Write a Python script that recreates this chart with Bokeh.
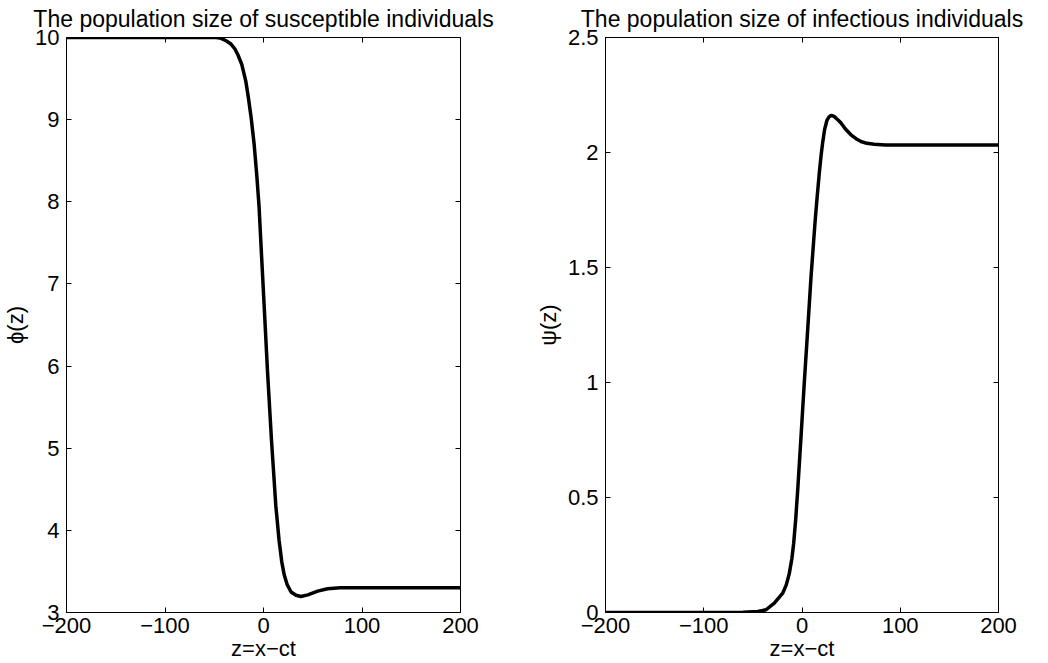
from bokeh.plotting import figure
from bokeh.layouts import row
from bokeh.models import LinearAxis, FixedTicker, Range1d
from bokeh.embed import file_html
from bokeh.resources import INLINE

# ---- data ----
z_phi = [-200, -100, -60, -48, -43, -38, -33, -29, -26, -22, -18, -15.5, -12.5,
         -9.5, -7, -4.5, -2, 0.6, 4.1, 8.1, 12.5, 15.8, 18.5, 21, 24, 28, 33, 38, 45,
         55, 65, 78, 100, 150, 200]
phi = [10, 10, 10, 10.0, 9.99, 9.96, 9.92, 9.86, 9.79, 9.67, 9.47, 9.28, 9.02,
       8.70, 8.35, 7.94, 7.35, 6.75, 5.93, 5.10, 4.30, 3.88, 3.62, 3.46, 3.34, 3.25, 3.21,
       3.195, 3.215, 3.26, 3.29, 3.30, 3.30, 3.30, 3.30]

z_psi = [-200, -100, -60, -45, -36.6, -28.2, -19.6, -16, -12.9, -10.3, -8.5, -6.5,
         -4.4, -1.0, 2.3, 5.2, 9.2, 13.2, 15.5, 17.6, 19.5, 21.1, 23, 25.4, 27.5, 29.5,
         31.2, 33, 35, 37.5, 39.7, 44, 49.8, 55, 60, 66, 73.5, 85, 100, 150, 200]
psi = [0, 0, 0.001, 0.004, 0.012, 0.041, 0.084, 0.12, 0.17, 0.235, 0.30, 0.40,
       0.53, 0.765, 0.997, 1.19, 1.46, 1.693, 1.81, 1.91, 1.99, 2.045, 2.10, 2.14, 2.155, 2.161,
       2.160, 2.156, 2.148, 2.138, 2.128, 2.103, 2.077, 2.06, 2.048, 2.04, 2.036, 2.033,
       2.033, 2.033, 2.033]

x_ticks = [-200, -100, 0, 100, 200]
x_tick_labels = ["\u2212200", "\u2212100", "0", "100", "200"]
phi_ticks = [3, 4, 5, 6, 7, 8, 9, 10]
phi_tick_labels = ["3", "4", "5", "6", "7", "8", "9", "10"]
psi_ticks = [0, 0.5, 1, 1.5, 2, 2.5]
psi_tick_labels = ["0", "0.5", "1", "1.5", "2", "2.5"]

titles = ["The population size of susceptible individuals",
          "The population size of infectious individuals"]
x_label = "z=x\u2212ct"
y_labels = ["\u03d5(z)", "\u03c8(z)"]

FONT = "Liberation Sans"
FS = "22px"
TFS = "23px"


def make(title, ylabel, zs, vs, yr, yticks, ylabels, bl, br):
    p = figure(width=524, height=663, output_backend="svg", toolbar_location=None,
               x_range=Range1d(-200, 200), y_range=Range1d(*yr),
               min_border_left=bl, min_border_right=br,
               min_border_top=37, min_border_bottom=50,
               background_fill_color="white", border_fill_color="white")
    p.title.text = title
    p.title.text_font = FONT
    p.title.text_font_size = TFS
    p.title.text_font_style = "normal"
    p.title.text_color = "black"
    p.title.align = "center"
    p.title.vertical_align = "top"
    p.title.standoff = 8
    p.outline_line_color = "black"
    p.outline_line_width = 1
    p.outline_line_alpha = 1
    p.grid.visible = False

    for ax in (p.xaxis[0], p.yaxis[0]):
        ax.major_tick_in = 5
        ax.major_tick_out = 0
        ax.minor_tick_line_color = None
        ax.major_tick_line_color = "black"
        ax.axis_line_color = "black"
        ax.major_label_text_font = FONT
        ax.major_label_text_font_size = FS
        ax.major_label_text_color = "black"
        ax.axis_label_text_font = FONT
        ax.axis_label_text_font_size = FS
        ax.axis_label_text_font_style = "normal"
        ax.axis_label_text_color = "black"
    p.xaxis.ticker = FixedTicker(ticks=x_ticks)
    p.xaxis.major_label_overrides = dict(zip(x_ticks, x_tick_labels))
    p.xaxis.axis_label = x_label
    p.xaxis.major_label_standoff = 5
    p.xaxis.axis_label_standoff = 0
    p.yaxis.ticker = FixedTicker(ticks=yticks)
    p.yaxis.major_label_overrides = dict(zip(yticks, ylabels))
    p.yaxis.axis_label = ylabel
    p.yaxis.major_label_standoff = 7
    p.yaxis.axis_label_standoff = 4

    top = LinearAxis(ticker=FixedTicker(ticks=x_ticks), major_tick_in=5, major_tick_out=0,
                     minor_tick_line_color=None, axis_line_color=None,
                     major_label_text_font_size="0px", major_label_standoff=0,
                     major_label_overrides={t: "" for t in x_ticks})
    right = LinearAxis(ticker=FixedTicker(ticks=yticks), major_tick_in=5, major_tick_out=0,
                       minor_tick_line_color=None, axis_line_color=None,
                       major_label_text_font_size="0px", major_label_standoff=0,
                       major_label_overrides={t: "" for t in yticks})
    p.add_layout(top, "above")
    p.add_layout(right, "right")

    p.line(zs, vs, line_color="black", line_width=3.5, line_join="round")
    return p


p1 = make(titles[0], y_labels[0], z_phi, phi, (3, 10), phi_ticks, phi_tick_labels, 66, 64)
p2 = make(titles[1], y_labels[1], z_psi, psi, (0, 2.5), psi_ticks, psi_tick_labels, 81, 50)

layout = row(p1, p2, spacing=0)
open("out.html", "w").write(file_html(layout, INLINE))
